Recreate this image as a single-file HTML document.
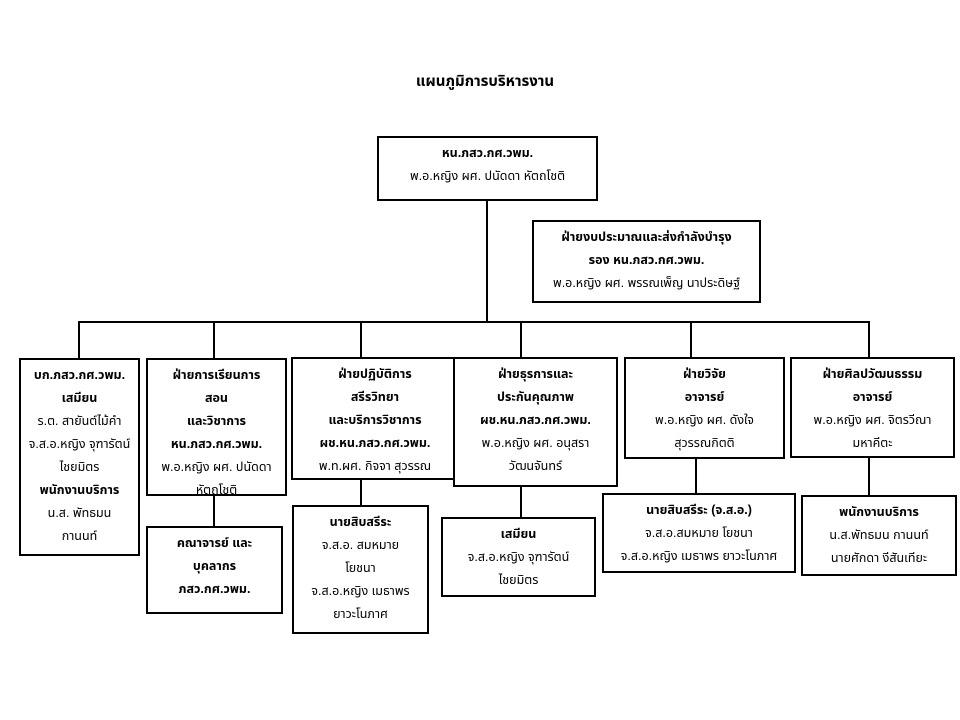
<!DOCTYPE html>
<html><head><meta charset="utf-8"><style>
body{margin:0;width:960px;height:720px;background:#fff;position:relative;overflow:hidden;font-family:"Liberation Sans","Noto Sans Thai","Tahoma",sans-serif;color:#000}
.b{position:absolute;border:2px solid #000;box-sizing:border-box;text-align:center;font-size:12.5px;line-height:23px;padding-top:4px;background:#fff}
.b b{font-weight:bold}
.v{position:absolute;width:2px;background:#000}
.h{position:absolute;height:2px;background:#000}
</style></head><body>
<div style="position:absolute;left:0;width:970px;top:70px;text-align:center;font-size:15px;font-weight:bold">แผนภูมิการบริหารงาน</div>
<div class="v" style="left:486px;top:200px;height:123px"></div>
<div class="h" style="left:78px;top:321px;width:792px"></div>
<div class="v" style="left:78px;top:321px;height:38px"></div>
<div class="v" style="left:213px;top:321px;height:38px"></div>
<div class="v" style="left:360px;top:321px;height:38px"></div>
<div class="v" style="left:520px;top:321px;height:38px"></div>
<div class="v" style="left:690px;top:321px;height:38px"></div>
<div class="v" style="left:868px;top:321px;height:38px"></div>
<div class="v" style="left:213px;top:494px;height:33px"></div>
<div class="v" style="left:360px;top:478px;height:28px"></div>
<div class="v" style="left:520px;top:485px;height:33px"></div>
<div class="v" style="left:695px;top:457px;height:37px"></div>
<div class="v" style="left:868px;top:456px;height:40px"></div>

<div class="b" style="left:377px;top:136px;width:221px;height:65px"><b>หน.ภสว.กศ.วพม.</b><br>พ.อ.หญิง ผศ. ปนัดดา หัตถโชติ</div>
<div class="b" style="left:532px;top:220px;width:229px;height:83px"><b>ฝ่ายงบประมาณและส่งกำลังบำรุง</b><br><b>รอง หน.ภสว.กศ.วพม.</b><br>พ.อ.หญิง ผศ. พรรณเพ็ญ นาประดิษฐ์</div>

<div class="b" style="left:19px;top:358px;width:121px;height:198px"><b>บก.ภสว.กศ.วพม.</b><br><b>เสมียน</b><br>ร.ต. สายันต์ไม้คำ<br>จ.ส.อ.หญิง จุฑารัตน์<br>ไชยมิตร<br><b>พนักงานบริการ</b><br>น.ส. พัทธมน<br>กานนท์</div>
<div class="b" style="left:146px;top:358px;width:141px;height:138px"><b>ฝ่ายการเรียนการ</b><br><b>สอน</b><br><b>และวิชาการ</b><br><b>หน.ภสว.กศ.วพม.</b><br>พ.อ.หญิง ผศ. ปนัดดา<br>หัตถโชติ</div>
<div class="b" style="left:291px;top:357px;width:168px;height:123px;overflow:hidden"><b>ฝ่ายปฏิบัติการ</b><br><b>สรีรวิทยา</b><br><b>และบริการวิชาการ</b><br><b>ผช.หน.ภสว.กศ.วพม.</b><br>พ.ท.ผศ. กิจจา สุวรรณ</div>
<div class="b" style="left:453px;top:357px;width:165px;height:130px"><b>ฝ่ายธุรการและ</b><br><b>ประกันคุณภาพ</b><br><b>ผช.หน.ภสว.กศ.วพม.</b><br>พ.อ.หญิง ผศ. อนุสรา<br>วัฒนจันทร์</div>
<div class="b" style="left:624px;top:357px;width:161px;height:102px"><b>ฝ่ายวิจัย</b><br><b>อาจารย์</b><br>พ.อ.หญิง ผศ. ดังใจ<br>สุวรรณกิตติ</div>
<div class="b" style="left:790px;top:357px;width:165px;height:101px"><b>ฝ่ายศิลปวัฒนธรรม</b><br><b>อาจารย์</b><br>พ.อ.หญิง ผศ. จิตรวีณา<br>มหาคีตะ</div>

<div class="b" style="left:146px;top:526px;width:137px;height:88px"><b>คณาจารย์ และ</b><br><b>บุคลากร</b><br><b>ภสว.กศ.วพม.</b></div>
<div class="b" style="left:292px;top:505px;width:137px;height:129px"><b>นายสิบสรีระ</b><br>จ.ส.อ. สมหมาย<br>โยชนา<br>จ.ส.อ.หญิง เมธาพร<br>ยาวะโนภาศ</div>
<div class="b" style="left:441px;top:517px;width:155px;height:80px"><b>เสมียน</b><br>จ.ส.อ.หญิง จุฑารัตน์<br>ไชยมิตร</div>
<div class="b" style="left:602px;top:493px;width:194px;height:80px"><b>นายสิบสรีระ (จ.ส.อ.)</b><br>จ.ส.อ.สมหมาย โยชนา<br>จ.ส.อ.หญิง เมธาพร ยาวะโนภาศ</div>
<div class="b" style="left:801px;top:495px;width:156px;height:81px"><b>พนักงานบริการ</b><br>น.ส.พัทธมน กานนท์<br>นายศักดา งีสันเทียะ</div>
</body></html>
